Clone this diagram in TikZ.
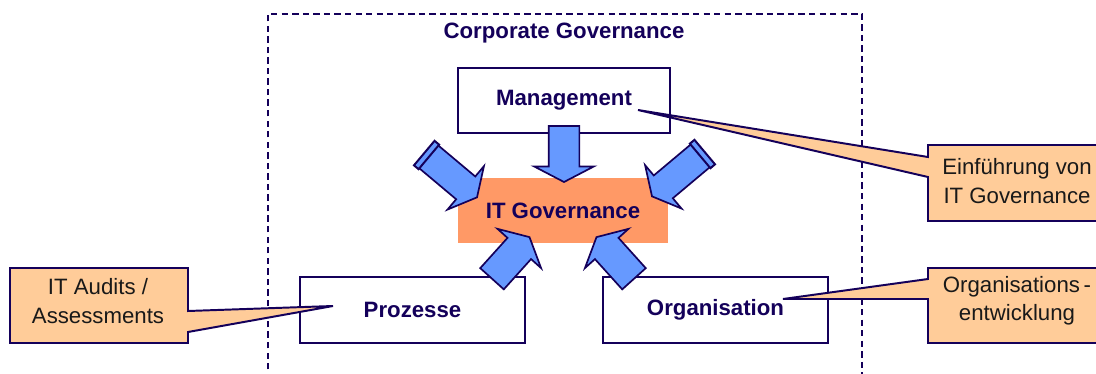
\documentclass[tikz,border=0pt]{standalone}
\usepackage{fontspec}
\setmainfont{Liberation Sans}
\usepackage{tikz}
\usetikzlibrary{shapes.arrows,calc}

\definecolor{navy}{HTML}{14005A}
\definecolor{govorange}{HTML}{FF9966}
\definecolor{notefill}{HTML}{FFCC99}
\definecolor{arrowblue}{HTML}{6699FF}

\tikzset{
  every node/.style={font=\fontsize{15.8}{20}\selectfont},
  unitbox/.style={draw=navy, line width=1.4pt, fill=white, text=navy,
    font=\fontsize{15.8}{20}\selectfont\bfseries, inner sep=0pt},
  govbox/.style={fill=govorange, text=navy,
    font=\fontsize{15.8}{20}\selectfont\bfseries, inner sep=0pt},
  fatarrow/.style={single arrow, draw=navy, fill=arrowblue, line width=1.2pt,
    inner xsep=0pt, single arrow tip angle=125},
  arrowcap/.style={rectangle, draw=navy, fill=arrowblue, line width=1.4pt,
    inner sep=0pt, minimum width=0.15cm, minimum height=0.8cm},
  note/.style={draw=navy, line width=1.4pt, fill=notefill, line join=miter},
  notetext/.style={align=center, text=black!90, inner sep=0pt},
}

\begin{document}
\begin{tikzpicture}[x=0.025cm, y=-0.025cm]
  \useasboundingbox (0,0) rectangle (1096,374);

  % corporate governance frame, open at the bottom
  \draw[navy, line width=0.9pt, dash pattern=on 4.5pt off 3pt]
    (268,380) -- (268,14) -- (862,14) -- (862,380);
  \node[text=navy, font=\fontsize{15.8}{20}\selectfont\bfseries] (corp) at (564,33) {Corporate Governance};

  % the four boxes
  \node[unitbox, minimum width=5.3cm, minimum height=1.625cm] (mgmt) at (564,100.5) {Management};
  \node[govbox, minimum width=5.25cm, minimum height=1.625cm] (itgov) at (563,210.5) {IT Governance};
  \node[unitbox, minimum width=5.625cm, minimum height=1.65cm] (proz) at (412.5,310) {Prozesse};
  \node[unitbox, minimum width=5.625cm, minimum height=1.65cm] (orga) at (715.5,310) {Organisation};

  % block arrows into IT governance
  \node[fatarrow, minimum height=1.4cm, inner ysep=0.3625cm, single arrow head extend=0.3625cm, rotate=-90] (arrM) at (564,150) {};
  \node[fatarrow, minimum height=1.7cm, inner ysep=0.35cm, single arrow head extend=0.3375cm, rotate=-40] (arrUL) at (448,173) {};
  \node[fatarrow, minimum height=1.7cm, inner ysep=0.35cm, single arrow head extend=0.3375cm, rotate=-140] (arrUR) at (681,172) {};
  \node[fatarrow, minimum height=1.4cm, inner ysep=0.375cm, single arrow head extend=0.3375cm, rotate=48] (arrLL) at (508,261) {};
  \node[fatarrow, minimum height=1.4cm, inner ysep=0.375cm, single arrow head extend=0.3375cm, rotate=132] (arrLR) at (618,261) {};
  \node[arrowcap, rotate=-40] (capUL) at ($(arrUL.tail)!0.075cm!(arrUL.tip)$) {};
  \node[arrowcap, rotate=-140] (capUR) at ($(arrUR.tail)!0.075cm!(arrUR.tip)$) {};

  % callouts
  \coordinate (einfTip) at (638,110);
  \coordinate (auditTip) at (333,306);
  \coordinate (entwTip) at (783,299);

  \filldraw[note] (928,145) -- (1110,145) -- (1110,221) -- (928,221) -- (928,177)
    -- (einfTip) -- (928,157) -- cycle;
  \node[notetext] (einf) at (1017,181) {Einführung von\\IT Governance};

  \filldraw[note] (10,268) -- (188,268) -- (188,311) -- (auditTip) -- (188,332)
    -- (188,343) -- (10,343) -- cycle;
  \node[notetext] (audit) at (98,301) {IT Audits /\\Assessments};

  \filldraw[note] (928,268) -- (1110,268) -- (1110,343) -- (928,343) -- (928,299)
    -- (entwTip) -- (928,279) -- cycle;
  \node[notetext] (entw) at (1017,301) {Organisations\,-\\entwicklung};
\end{tikzpicture}
\end{document}
